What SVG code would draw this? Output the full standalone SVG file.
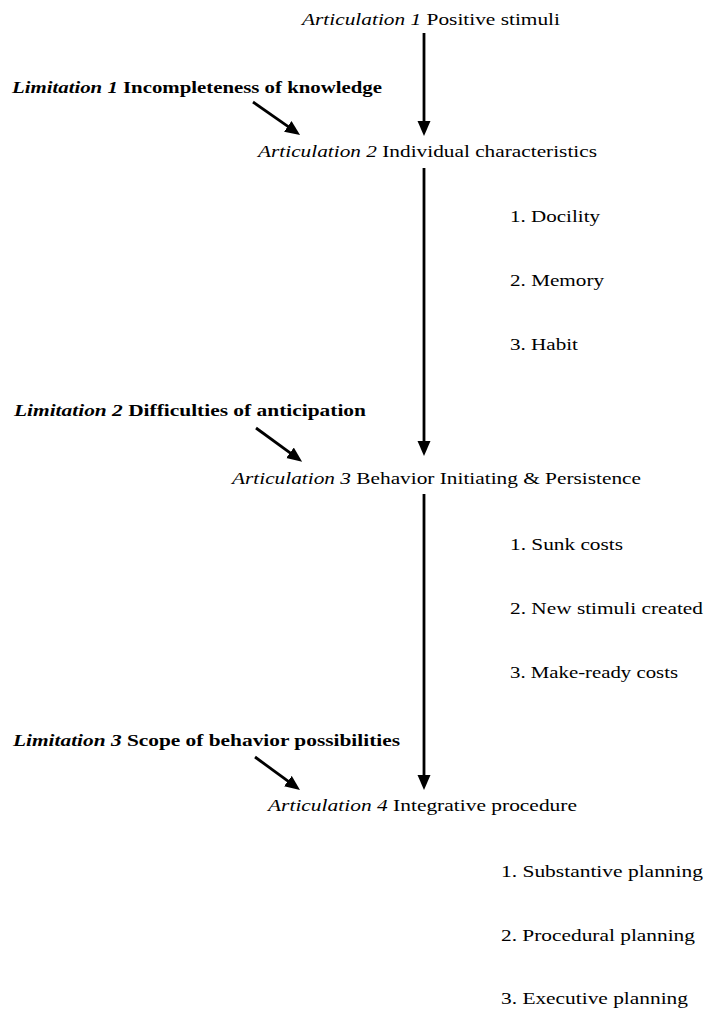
<svg xmlns="http://www.w3.org/2000/svg" width="706" height="1011" viewBox="0 0 706 1011">
<defs>
<marker id="ah" markerUnits="userSpaceOnUse" markerWidth="16" markerHeight="14" refX="1" refY="6.5" orient="auto">
<path d="M0,0 L15,6.5 L0,13 z" fill="#000"/>
</marker>
<style>
.i{font-style:italic}
.b{font-weight:bold;font-size:16.5px}
.c{stroke:#000;stroke-width:2.8;fill:none;marker-end:url(#ah)}
</style>
</defs>
<rect width="706" height="1011" fill="#fff"/>
<g id="connectors">
<line class="c" x1="424" y1="33" x2="424" y2="122"/>
<line class="c" x1="424" y1="168" x2="424" y2="442"/>
<line class="c" x1="424" y1="494" x2="424" y2="776"/>
<line class="c" x1="253" y1="102" x2="288.6" y2="126.9"/>
<line class="c" x1="256" y1="428" x2="290.8" y2="453.4"/>
<line class="c" x1="255" y1="757" x2="288.7" y2="781.7"/>
</g>
<g font-family="Liberation Serif, DejaVu Serif, serif" font-size="17" fill="#000">
<g id="articulation1"><text x="302" y="25" textLength="258" lengthAdjust="spacingAndGlyphs"><tspan class="i">Articulation 1</tspan> Positive stimuli</text></g>
<g id="limitation1"><text class="b" x="12" y="93" textLength="370" lengthAdjust="spacingAndGlyphs"><tspan class="i">Limitation 1</tspan> Incompleteness of knowledge</text></g>
<g id="articulation2"><text x="258" y="157" textLength="339" lengthAdjust="spacingAndGlyphs"><tspan class="i">Articulation 2</tspan> Individual characteristics</text></g>
<g id="list2">
<text x="510" y="222" textLength="90" lengthAdjust="spacingAndGlyphs">1. Docility</text>
<text x="510" y="286" textLength="94" lengthAdjust="spacingAndGlyphs">2. Memory</text>
<text x="510" y="350" textLength="68" lengthAdjust="spacingAndGlyphs">3. Habit</text>
</g>
<g id="limitation2"><text class="b" x="14" y="416" textLength="352" lengthAdjust="spacingAndGlyphs"><tspan class="i">Limitation 2</tspan> Difficulties of anticipation</text></g>
<g id="articulation3"><text x="232" y="484" textLength="409" lengthAdjust="spacingAndGlyphs"><tspan class="i">Articulation 3</tspan> Behavior Initiating &amp; Persistence</text></g>
<g id="list3">
<text x="510" y="550" textLength="113" lengthAdjust="spacingAndGlyphs">1. Sunk costs</text>
<text x="510" y="614" textLength="193" lengthAdjust="spacingAndGlyphs">2. New stimuli created</text>
<text x="510" y="678" textLength="168" lengthAdjust="spacingAndGlyphs">3. Make-ready costs</text>
</g>
<g id="limitation3"><text class="b" x="13" y="746" textLength="387" lengthAdjust="spacingAndGlyphs"><tspan class="i">Limitation 3</tspan> Scope of behavior possibilities</text></g>
<g id="articulation4"><text x="268" y="811" textLength="309" lengthAdjust="spacingAndGlyphs"><tspan class="i">Articulation 4</tspan> Integrative procedure</text></g>
<g id="list4">
<text x="501" y="877" textLength="202" lengthAdjust="spacingAndGlyphs">1. Substantive planning</text>
<text x="501" y="941" textLength="194" lengthAdjust="spacingAndGlyphs">2. Procedural planning</text>
<text x="501" y="1004" textLength="187" lengthAdjust="spacingAndGlyphs">3. Executive planning</text>
</g>
</g>
</svg>
